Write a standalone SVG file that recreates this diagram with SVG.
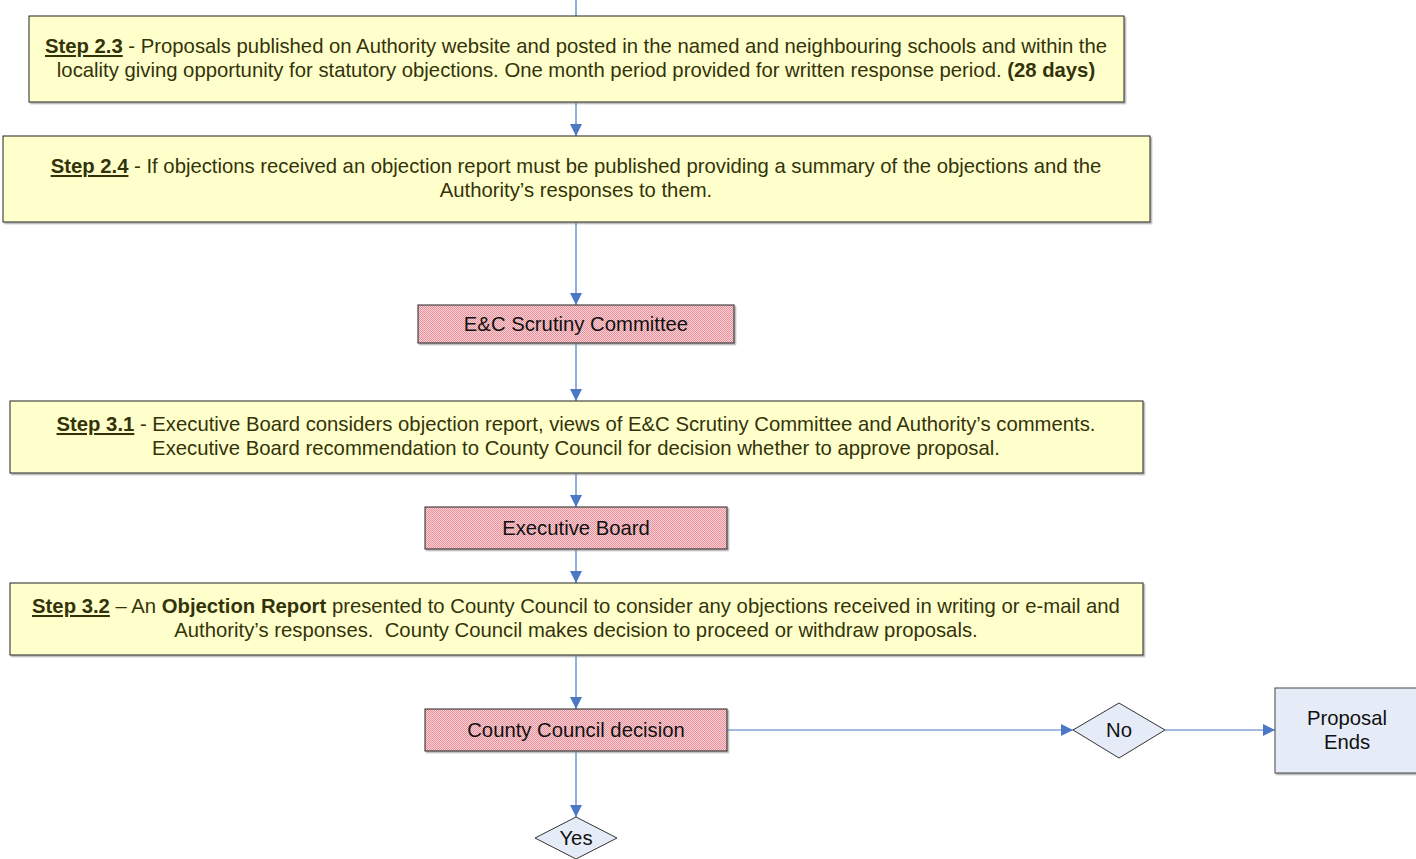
<svg xmlns="http://www.w3.org/2000/svg" width="1416" height="859" viewBox="0 0 1416 859">
<defs>
<pattern id="chk" width="2" height="2" patternUnits="userSpaceOnUse">
<rect width="2" height="2" fill="#f8d2d6"/>
<rect width="1" height="1" fill="#e8909a"/>
<rect x="1" y="1" width="1" height="1" fill="#e8909a"/>
</pattern>
<marker id="ah" viewBox="0 0 12 12" refX="12" refY="6" markerWidth="12" markerHeight="12" markerUnits="userSpaceOnUse" orient="auto">
<path d="M0,0 L12,6 L0,12 Z" fill="#4a78c4"/>
</marker>
<filter id="sh" x="-5%" y="-10%" width="110%" height="130%">
<feDropShadow dx="1.5" dy="1.5" stdDeviation="0.6" flood-color="#888" flood-opacity="0.7"/>
</filter>
</defs>
<style>
.step{fill:#ffffcc;stroke:#222;stroke-width:1;filter:url(#sh)}
.red{fill:url(#chk);stroke:#222;stroke-width:1;filter:url(#sh)}
.blue{fill:#e6ecf7;stroke:#333;stroke-width:1}
.bluebox{fill:#e6ecf7;stroke:#444;stroke-width:1;filter:url(#sh)}
.st{font-family:"Liberation Sans",Arial,sans-serif;font-size:20.3px;fill:#33330a;text-anchor:middle}
.lb{font-family:"Liberation Sans",Arial,sans-serif;font-size:20.3px;fill:#111;text-anchor:middle}
.b{font-weight:bold}
.u{font-weight:bold;text-decoration:underline}
.c{stroke:#4a78c4;stroke-width:1.2;fill:none}
</style>
<g id="connectors">
<line class="c" x1="576" y1="0" x2="576" y2="16"/>
<line class="c" x1="576" y1="102" x2="576" y2="136" marker-end="url(#ah)"/>
<line class="c" x1="576" y1="222" x2="576" y2="305" marker-end="url(#ah)"/>
<line class="c" x1="576" y1="343" x2="576" y2="401" marker-end="url(#ah)"/>
<line class="c" x1="576" y1="473" x2="576" y2="507" marker-end="url(#ah)"/>
<line class="c" x1="576" y1="549" x2="576" y2="583" marker-end="url(#ah)"/>
<line class="c" x1="576" y1="655" x2="576" y2="709" marker-end="url(#ah)"/>
<line class="c" x1="727" y1="730" x2="1073" y2="730" marker-end="url(#ah)"/>
<line class="c" x1="1165" y1="730" x2="1275" y2="730" marker-end="url(#ah)"/>
<line class="c" x1="576" y1="751" x2="576" y2="817" marker-end="url(#ah)"/>
</g>
<g id="step23">
<rect class="step" x="29" y="16" width="1095" height="86"/>
<text class="st" x="576" y="53"><tspan class="u">Step 2.3</tspan> - Proposals published on Authority website and posted in the named and neighbouring schools and within the</text>
<text class="st" x="576" y="77">locality giving opportunity for statutory objections. One month period provided for written response period. <tspan class="b">(28 days)</tspan></text>
</g>
<g id="step24">
<rect class="step" x="3" y="136" width="1147" height="86"/>
<text class="st" x="576" y="173"><tspan class="u">Step 2.4</tspan> - If objections received an objection report must be published providing a summary of the objections and the</text>
<text class="st" x="576" y="197">Authority’s responses to them.</text>
</g>
<g id="scrutiny">
<rect class="red" x="418" y="305" width="316" height="38"/>
<text class="lb" x="576" y="331">E&amp;C Scrutiny Committee</text>
</g>
<g id="step31">
<rect class="step" x="10" y="401" width="1133" height="72"/>
<text class="st" x="576" y="431"><tspan class="u">Step 3.1</tspan> - Executive Board considers objection report, views of E&amp;C Scrutiny Committee and Authority’s comments.</text>
<text class="st" x="576" y="455">Executive Board recommendation to County Council for decision whether to approve proposal.</text>
</g>
<g id="execboard">
<rect class="red" x="425" y="507" width="302" height="42"/>
<text class="lb" x="576" y="535">Executive Board</text>
</g>
<g id="step32">
<rect class="step" x="10" y="583" width="1133" height="72"/>
<text class="st" x="576" y="613"><tspan class="u">Step 3.2</tspan> – An <tspan class="b">Objection Report</tspan> presented to County Council to consider any objections received in writing or e-mail and</text>
<text class="st" x="576" y="637">Authority’s responses.&#160; County Council makes decision to proceed or withdraw proposals.</text>
</g>
<g id="ccdecision">
<rect class="red" x="425" y="709" width="302" height="42"/>
<text class="lb" x="576" y="737">County Council decision</text>
</g>
<g id="no">
<polygon class="blue" points="1119,703 1165,730 1119,758 1073,730"/>
<text class="lb" x="1119" y="737">No</text>
</g>
<g id="proposalends">
<rect class="bluebox" x="1275" y="688" width="145" height="85"/>
<text class="lb" x="1347" y="725">Proposal</text>
<text class="lb" x="1347" y="749">Ends</text>
</g>
<g id="yes">
<polygon class="blue" points="576,817 617,838 576,859 535,838"/>
<text class="lb" x="576" y="845">Yes</text>
</g>
</svg>
